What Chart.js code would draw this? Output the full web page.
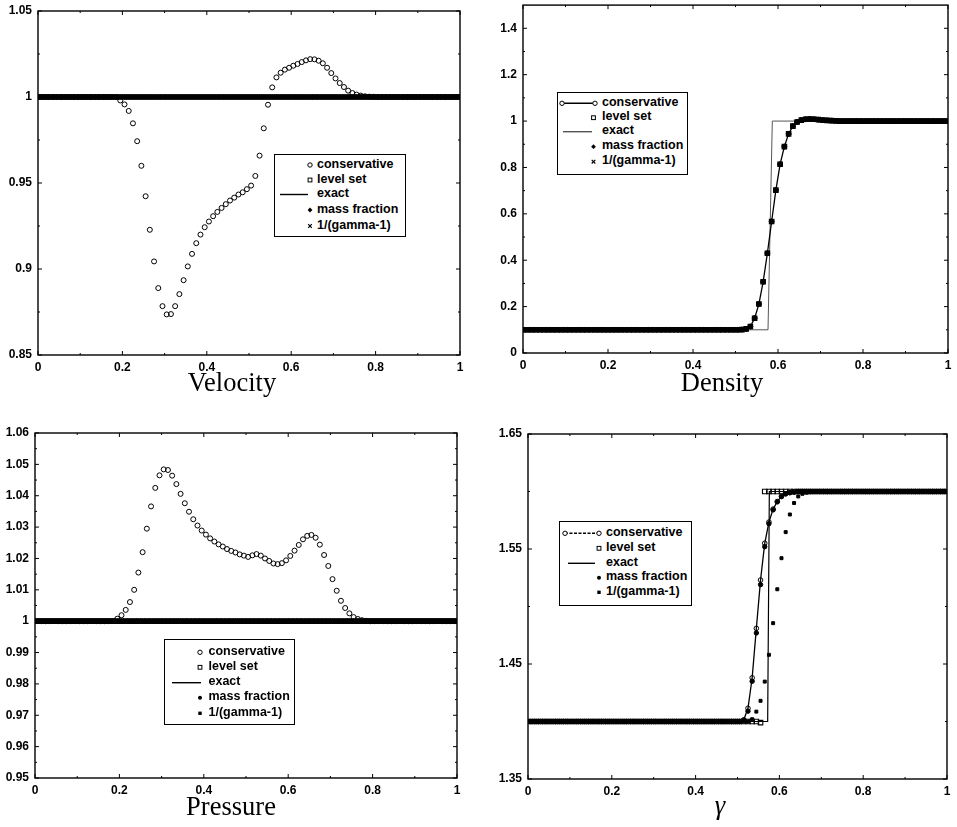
<!DOCTYPE html>
<html><head><meta charset="utf-8">
<script src="https://cdn.jsdelivr.net/npm/chart.js@4.4.1/dist/chart.umd.min.js"></script>
<style>
html,body{margin:0;padding:0;background:#fff;}
body{width:957px;height:827px;position:relative;overflow:hidden;}
.panel{position:absolute;}
.panel canvas{display:block;}
.title{position:absolute;font-family:"Liberation Serif","DejaVu Serif",serif;font-size:26.5px;line-height:26.5px;color:#000;white-space:nowrap;transform:translateX(-50%);}
.legbox{position:absolute;border:1.4px solid #000;background:#fff;box-sizing:border-box;}
.legtxt{position:absolute;font:bold 12.5px "Liberation Sans",Arial,sans-serif;line-height:14px;white-space:nowrap;color:#000;}
#legsvg{position:absolute;left:0;top:0;}
</style></head><body>
<div class="panel" style="left:0;top:0;"><canvas id="cVel" width="478" height="400"></canvas></div>
<div class="panel" style="left:478px;top:0;"><canvas id="cDen" width="479" height="400"></canvas></div>
<div class="panel" style="left:0;top:410px;"><canvas id="cPre" width="478" height="417"></canvas></div>
<div class="panel" style="left:478px;top:410px;"><canvas id="cGam" width="479" height="417"></canvas></div>
<div class="title" style="left:232px;top:369px;">Velocity</div>
<div class="title" style="left:722px;top:369px;">Density</div>
<div class="title" style="left:231px;top:793px;">Pressure</div>
<div class="title" style="left:720px;top:792px;font-style:italic;">γ</div>
<div id="legends"></div>
<svg id="legsvg" width="957" height="827" xmlns="http://www.w3.org/2000/svg"></svg>
<script>
// ---------------- data ----------------
const cellX = [
0.005,0.015,0.025,0.035,0.045,0.055,0.065,0.075,0.085,0.095,
0.105,0.115,0.125,0.135,0.145,0.155,0.165,0.175,0.185,0.195,
0.205,0.215,0.225,0.235,0.245,0.255,0.265,0.275,0.285,0.295,
0.305,0.315,0.325,0.335,0.345,0.355,0.365,0.375,0.385,0.395,
0.405,0.415,0.425,0.435,0.445,0.455,0.465,0.475,0.485,0.495,
0.505,0.515,0.525,0.535,0.545,0.555,0.565,0.575,0.585,0.595,
0.605,0.615,0.625,0.635,0.645,0.655,0.665,0.675,0.685,0.695,
0.705,0.715,0.725,0.735,0.745,0.755,0.765,0.775,0.785,0.795,
0.805,0.815,0.825,0.835,0.845,0.855,0.865,0.875,0.885,0.895,
0.905,0.915,0.925,0.935,0.945,0.955,0.965,0.975,0.985,0.995];

const legendLabels = ["conservative","level set","exact","mass fraction","1/(gamma-1)"];

const xTickVals = [0,0.2,0.4,0.6,0.8,1];
const xTickLabels = ["0","0.2","0.4","0.6","0.8","1"];

// Velocity
const velYTicks = [0.85,0.9,0.95,1,1.05];
const velYLabels = ["0.85","0.9","0.95","1","1.05"];
const velCons = [
1,1,1,1,1,1,1,1,1,1,
1,1,1,1,1,1,1,1,1,0.998,
0.9957,0.9919,0.9847,0.9743,0.960,0.9423,0.9228,0.9044,0.8889,0.8784,
0.8736,0.8738,0.8784,0.8854,0.8935,0.9015,0.9088,0.915,0.920,0.9243,
0.9276,0.9307,0.9332,0.9355,0.9377,0.9398,0.9415,0.9433,0.9446,0.9464,
0.9485,0.9541,0.9659,0.9818,0.9955,1.0056,1.0114,1.0141,1.0159,1.017,
1.0182,1.0192,1.0203,1.0213,1.022,1.0219,1.0211,1.0196,1.017,1.0139,
1.0108,1.0081,1.0058,1.0037,1.0023,1.0014,1.0008,1.0004,1.0002,1.0001,
1,1,1,1,1,1,1,1,1,1,
1,1,1,1,1,1,1,1,1,1];
const velFlat = [
1,1,1,1,1,1,1,1,1,1, 1,1,1,1,1,1,1,1,1,1,
1,1,1,1,1,1,1,1,1,1, 1,1,1,1,1,1,1,1,1,1,
1,1,1,1,1,1,1,1,1,1, 1,1,1,1,1,1,1,1,1,1,
1,1,1,1,1,1,1,1,1,1, 1,1,1,1,1,1,1,1,1,1,
1,1,1,1,1,1,1,1,1,1, 1,1,1,1,1,1,1,1,1,1];
const velLevel = velFlat, velMass = velFlat, velInvG = velFlat;
const velExactX = [0,1], velExactY = [1,1];

// Pressure
const preYTicks = [0.95,0.96,0.97,0.98,0.99,1,1.01,1.02,1.03,1.04,1.05,1.06];
const preYLabels = ["0.95","0.96","0.97","0.98","0.99","1","1.01","1.02","1.03","1.04","1.05","1.06"];
const preCons = [
1,1,1,1,1,1,1,1,1,1,
1,1,1,1,1,1,1,1,1,1.0008,
1.0019,1.0036,1.0061,1.010,1.0155,1.022,1.0295,1.0366,1.0425,1.0465,
1.0484,1.0482,1.0464,1.0437,1.0406,1.0376,1.0349,1.0325,1.0305,1.0289,
1.0276,1.0264,1.0254,1.0245,1.0238,1.0230,1.0224,1.0219,1.0213,1.0209,
1.0205,1.021,1.0214,1.0209,1.0200,1.0192,1.0184,1.0182,1.0185,1.0194,
1.0208,1.0225,1.0243,1.0261,1.0272,1.0275,1.0266,1.0244,1.0211,1.0176,
1.0134,1.0097,1.0065,1.0042,1.0025,1.0013,1.0007,1.0003,1.0001,1,
1,1,1,1,1,1,1,1,1,1,
1,1,1,1,1,1,1,1,1,1];
const preFlat = [
1,1,1,1,1,1,1,1,1,1, 1,1,1,1,1,1,1,1,1,1,
1,1,1,1,1,1,1,1,1,1, 1,1,1,1,1,1,1,1,1,1,
1,1,1,1,1,1,1,1,1,1, 1,1,1,1,1,1,1,1,1,1,
1,1,1,1,1,1,1,1,1,1, 1,1,1,1,1,1,1,1,1,1,
1,1,1,1,1,1,1,1,1,1, 1,1,1,1,1,1,1,1,1,1];
const preLevel = preFlat, preMass = preFlat, preInvG = preFlat;
const preExactX = [0,1], preExactY = [1,1];

// Density
const denYTicks = [0,0.2,0.4,0.6,0.8,1,1.2,1.4];
const denYLabels = ["0","0.2","0.4","0.6","0.8","1","1.2","1.4"];
const denCons = [
0.1,0.1,0.1,0.1,0.1,0.1,0.1,0.1,0.1,0.1,
0.1,0.1,0.1,0.1,0.1,0.1,0.1,0.1,0.1,0.1,
0.1,0.1,0.1,0.1,0.1,0.1,0.1,0.1,0.1,0.1,
0.1,0.1,0.1,0.1,0.1,0.1,0.1,0.1,0.1,0.1,
0.1,0.1,0.1,0.1,0.1,0.1,0.1,0.1,0.1,0.1,
0.1,0.101,0.104,0.114,0.15,0.211,0.307,0.43,0.567,0.702,
0.814,0.89,0.945,0.978,0.996,1.004,1.008,1.009,1.008,1.006,
1.004,1.003,1.002,1.001,1,1,1,1,1,1,
1,1,1,1,1,1,1,1,1,1,
1,1,1,1,1,1,1,1,1,1];
const denLevel = denCons, denMass = denCons, denInvG = denCons;
const denExactX = [0,0.5765,0.5866,1], denExactY = [0.1,0.1,1,1];

// Gamma
const gamYTicks = [1.35,1.45,1.55,1.65];
const gamYLabels = ["1.35","1.45","1.55","1.65"];
const gamCons = [
1.4,1.4,1.4,1.4,1.4,1.4,1.4,1.4,1.4,1.4,
1.4,1.4,1.4,1.4,1.4,1.4,1.4,1.4,1.4,1.4,
1.4,1.4,1.4,1.4,1.4,1.4,1.4,1.4,1.4,1.4,
1.4,1.4,1.4,1.4,1.4,1.4,1.4,1.4,1.4,1.4,
1.4,1.4,1.4,1.4,1.4,1.4,1.4,1.4,1.4,1.4,
1.4,1.4015,1.4115,1.438,1.481,1.523,1.555,1.5734,1.5847,1.5913,
1.596,1.598,1.599,1.5995,1.6,1.6,1.6,1.6,1.6,1.6,
1.6,1.6,1.6,1.6,1.6,1.6,1.6,1.6,1.6,1.6,
1.6,1.6,1.6,1.6,1.6,1.6,1.6,1.6,1.6,1.6,
1.6,1.6,1.6,1.6,1.6,1.6,1.6,1.6,1.6,1.6];
const gamMass = [
1.4,1.4,1.4,1.4,1.4,1.4,1.4,1.4,1.4,1.4,
1.4,1.4,1.4,1.4,1.4,1.4,1.4,1.4,1.4,1.4,
1.4,1.4,1.4,1.4,1.4,1.4,1.4,1.4,1.4,1.4,
1.4,1.4,1.4,1.4,1.4,1.4,1.4,1.4,1.4,1.4,
1.4,1.4,1.4,1.4,1.4,1.4,1.4,1.4,1.4,1.4,
1.4,1.401,1.409,1.435,1.477,1.519,1.552,1.572,1.584,1.591,
1.5955,1.598,1.599,1.5995,1.6,1.6,1.6,1.6,1.6,1.6,
1.6,1.6,1.6,1.6,1.6,1.6,1.6,1.6,1.6,1.6,
1.6,1.6,1.6,1.6,1.6,1.6,1.6,1.6,1.6,1.6,
1.6,1.6,1.6,1.6,1.6,1.6,1.6,1.6,1.6,1.6];
const gamInvG = [
1.4,1.4,1.4,1.4,1.4,1.4,1.4,1.4,1.4,1.4,
1.4,1.4,1.4,1.4,1.4,1.4,1.4,1.4,1.4,1.4,
1.4,1.4,1.4,1.4,1.4,1.4,1.4,1.4,1.4,1.4,
1.4,1.4,1.4,1.4,1.4,1.4,1.4,1.4,1.4,1.4,
1.4,1.4,1.4,1.4,1.4,1.4,1.4,1.4,1.4,1.4,
1.4,1.4,1.4,1.402,1.4086,1.418,1.4347,1.458,1.4855,1.515,
1.542,1.5647,1.580,1.590,1.5957,1.598,1.599,1.5995,1.6,1.6,
1.6,1.6,1.6,1.6,1.6,1.6,1.6,1.6,1.6,1.6,
1.6,1.6,1.6,1.6,1.6,1.6,1.6,1.6,1.6,1.6,
1.6,1.6,1.6,1.6,1.6,1.6,1.6,1.6,1.6,1.6];
const gamLevel = [
1.4,1.4,1.4,1.4,1.4,1.4,1.4,1.4,1.4,1.4,
1.4,1.4,1.4,1.4,1.4,1.4,1.4,1.4,1.4,1.4,
1.4,1.4,1.4,1.4,1.4,1.4,1.4,1.4,1.4,1.4,
1.4,1.4,1.4,1.4,1.4,1.4,1.4,1.4,1.4,1.4,
1.4,1.4,1.4,1.4,1.4,1.4,1.4,1.4,1.4,1.4,
1.4,1.4,1.4,1.4,1.4,1.399,1.6,1.6,1.6,1.6,
1.6,1.6,1.6,1.6,1.6,1.6,1.6,1.6,1.6,1.6,
1.6,1.6,1.6,1.6,1.6,1.6,1.6,1.6,1.6,1.6,
1.6,1.6,1.6,1.6,1.6,1.6,1.6,1.6,1.6,1.6,
1.6,1.6,1.6,1.6,1.6,1.6,1.6,1.6,1.6,1.6];
const gamExactX = [0,0.572,0.576,1], gamExactY = [1.4,1.4,1.6,1.6];

// ---------------- helpers ----------------
const tickFont = {family:'"Liberation Sans", Arial, sans-serif', size:12, weight:'bold'};
function pts(xs, ys){ return xs.map((x,i)=>({x:x, y:ys[i]})); }
function mids(v){ const m=[]; for(let i=0;i<v.length-1;i++) m.push((v[i]+v[i+1])/2); return m; }

const framePlugin = {
  id:'frame',
  afterDatasetsDraw(chart, args, opts){
    const {ctx, chartArea:a} = chart;
    const xs = chart.scales.x, ys = chart.scales.y;
    ctx.save();
    ctx.strokeStyle = '#000';
    ctx.lineWidth = 1;
    ctx.beginPath();
    const tick = (vals, len, horiz) => {
      for (const v of vals){
        if (horiz){
          const p = xs.getPixelForValue(v);
          ctx.moveTo(p, a.bottom); ctx.lineTo(p, a.bottom-len);
          ctx.moveTo(p, a.top); ctx.lineTo(p, a.top+len);
        } else {
          const p = ys.getPixelForValue(v);
          ctx.moveTo(a.left, p); ctx.lineTo(a.left+len, p);
          ctx.moveTo(a.right, p); ctx.lineTo(a.right-len, p);
        }
      }
    };
    tick(opts.xMajor, 4, true); tick(mids(opts.xMajor), 2, true);
    tick(opts.yMajor, 4, false); tick(mids(opts.yMajor), 2, false);
    ctx.stroke();
    ctx.lineWidth = 1.4;
    ctx.strokeRect(a.left, a.top, a.right-a.left, a.bottom-a.top);
    ctx.restore();
  }
};

function makeChart(id, cfg){
  return new Chart(document.getElementById(id), {
    type:'scatter',
    data:{datasets:cfg.datasets},
    options:{
      responsive:false, animation:false, events:[],
      layout:{padding:cfg.pad},
      plugins:{legend:{display:false}, tooltip:{enabled:false}, title:{display:false},
               frame:{xMajor:xTickVals, yMajor:cfg.yTicks}},
      scales:{
        x:{type:'linear', min:0, max:1, border:{display:false}, grid:{display:false, drawTicks:false},
           ticks:{padding:5, color:'#000', font:tickFont, maxRotation:0, autoSkip:false,
                  callback:(v,i)=>xTickLabels[i]},
           afterBuildTicks:s=>{ s.ticks = xTickVals.map(v=>({value:v})); },
           afterFit:s=>{ s.height = cfg.xH; s.paddingLeft=0; s.paddingRight=0; s.paddingTop=0; s.paddingBottom=0; }},
        y:{type:'linear', min:cfg.yMin, max:cfg.yMax, border:{display:false}, grid:{display:false, drawTicks:false},
           ticks:{padding:6, color:'#000', font:tickFont, autoSkip:false,
                  callback:(v,i)=>cfg.yLabels[i]},
           afterBuildTicks:s=>{ s.ticks = cfg.yTicks.map(v=>({value:v})); },
           afterFit:s=>{ s.width = cfg.yW; s.paddingLeft=0; s.paddingRight=0; s.paddingTop=0; s.paddingBottom=0; }}
      }
    },
    plugins:[framePlugin]
  });
}

const K = '#000', NONE = 'rgba(0,0,0,0)';
function sExact(color, w){ return {showLine:true, borderColor:color, borderWidth:w, pointRadius:0, order:5, tension:0}; }
function sCircles(r){ return {showLine:false, pointStyle:'circle', pointRadius:r, pointBorderWidth:1, pointBorderColor:K, pointBackgroundColor:NONE, order:4}; }
function sCirclesLine(r){ return {showLine:true, borderColor:K, borderWidth:1.3, pointStyle:'circle', pointRadius:r, pointBorderWidth:1, pointBorderColor:K, pointBackgroundColor:NONE, order:4}; }
function sSquares(r){ return {showLine:false, pointStyle:'rect', pointRadius:r, pointBorderWidth:1.1, pointBorderColor:K, pointBackgroundColor:NONE, order:3}; }
function sDots(r){ return {showLine:false, pointStyle:'circle', pointRadius:r, pointBorderWidth:1, pointBorderColor:K, pointBackgroundColor:K, order:2}; }
function sCrosses(r){ return {showLine:false, pointStyle:'crossRot', pointRadius:r, pointBorderWidth:1, pointBorderColor:K, order:1}; }
function sFSquares(r){ return {showLine:false, pointStyle:'rect', pointRadius:r, pointBorderWidth:1, pointBorderColor:K, pointBackgroundColor:K, order:1}; }
function ds(label, xs, ys, style){ return Object.assign({label:label, data:pts(xs, ys)}, style); }

makeChart('cVel', {
  pad:{left:0, top:11, right:18, bottom:25}, xH:20, yW:38,
  yMin:0.85, yMax:1.05, yTicks:velYTicks, yLabels:velYLabels,
  datasets:[
    ds(legendLabels[2], velExactX, velExactY, sExact(K, 1.5)),
    ds(legendLabels[0], cellX, velCons, sCircles(2.5)),
    ds(legendLabels[1], cellX, velLevel, sSquares(3.2)),
    ds(legendLabels[3], cellX, velMass, sDots(2.2)),
    ds(legendLabels[4], cellX, velInvG, sCrosses(2))
  ]
});
makeChart('cDen', {
  pad:{left:0, top:3, right:9, bottom:27}, xH:20, yW:45,
  yMin:0, yMax:1.5, yTicks:denYTicks, yLabels:denYLabels,
  datasets:[
    ds(legendLabels[2], denExactX, denExactY, sExact('#555', 1)),
    ds(legendLabels[0], cellX, denCons, sCirclesLine(2.4)),
    ds(legendLabels[1], cellX, denLevel, sSquares(3.2)),
    ds(legendLabels[3], cellX, denMass, sDots(2.2)),
    ds(legendLabels[4], cellX, denInvG, sCrosses(2))
  ]
});
makeChart('cPre', {
  pad:{left:0, top:23, right:21, bottom:29}, xH:20, yW:35,
  yMin:0.95, yMax:1.06, yTicks:preYTicks, yLabels:preYLabels,
  datasets:[
    ds(legendLabels[2], preExactX, preExactY, sExact(K, 1.5)),
    ds(legendLabels[0], cellX, preCons, sCircles(2.5)),
    ds(legendLabels[1], cellX, preLevel, sSquares(3.2)),
    ds(legendLabels[3], cellX, preMass, sDots(2.2)),
    ds(legendLabels[4], cellX, preInvG, sFSquares(2.2))
  ]
});
makeChart('cGam', {
  pad:{left:0, top:24, right:10, bottom:28}, xH:20, yW:50,
  yMin:1.35, yMax:1.65, yTicks:gamYTicks, yLabels:gamYLabels,
  datasets:[
    ds(legendLabels[2], gamExactX, gamExactY, sExact(K, 1.2)),
    ds(legendLabels[0], cellX, gamCons, sCirclesLine(2.3)),
    ds(legendLabels[1], cellX, gamLevel, sSquares(3.2)),
    ds(legendLabels[3], cellX, gamMass, sDots(2.2)),
    ds(legendLabels[4], cellX, gamInvG, sFSquares(2.1))
  ]
});

// ---------------- legends (HTML text + SVG keys) ----------------
const legendLayouts = [
  {box:[274,154,406,237], tx:317, mx:310, rows:[165,180,194.5,210,226],
   marks:[{k:'circle'},{k:'square'},{k:'line',x1:280,x2:308,c:'#000'},{k:'diamond'},{k:'cross'}]},
  {box:[557,92,688,175], tx:602, mx:593.5, rows:[103.3,117.7,131.7,146.7,161.7],
   marks:[{k:'lineCircles',x1:562,x2:595},{k:'square'},{k:'line',x1:563,x2:592,c:'#555'},{k:'diamond'},{k:'cross'}]},
  {box:[164,639,295,725], tx:208.5, mx:200, rows:[652.3,667.3,682.7,697.7,713.3],
   marks:[{k:'circle'},{k:'square'},{k:'line',x1:172,x2:201,c:'#000'},{k:'dot'},{k:'fsquare'}]},
  {box:[559,521,692,606], tx:606, mx:599, rows:[533.3,548.3,563.3,577.7,592.3],
   marks:[{k:'lineCircles',x1:565,x2:599,dash:'3,1.5'},{k:'square'},{k:'line',x1:568,x2:595,c:'#000'},{k:'dot'},{k:'fsquare'}]}
];
const SVGNS = 'http://www.w3.org/2000/svg';
const svg = document.getElementById('legsvg');
const legRoot = document.getElementById('legends');
function el(tag, attrs){ const e = document.createElementNS(SVGNS, tag); for (const k in attrs) e.setAttribute(k, attrs[k]); svg.appendChild(e); return e; }
function circ(cx, cy, fill){ el('circle',{cx:cx, cy:cy, r:2.2, fill:fill, stroke:'#000','stroke-width':1}); }
for (const L of legendLayouts){
  const [l,t,r,b] = L.box;
  const box = document.createElement('div');
  box.className = 'legbox';
  box.style.cssText = `left:${l}px;top:${t}px;width:${r-l}px;height:${b-t}px;`;
  legRoot.appendChild(box);
  L.rows.forEach((y,i)=>{
    const d = document.createElement('div');
    d.className = 'legtxt';
    d.textContent = legendLabels[i];
    d.style.left = L.tx + 'px';
    d.style.top = (y - 8.5) + 'px';
    legRoot.appendChild(d);
    const m = L.marks[i], x = L.mx;
    if (m.k === 'circle') circ(x, y, '#fff');
    else if (m.k === 'square') el('rect',{x:x-1.9, y:y-1.9, width:3.8, height:3.8, fill:'#fff', stroke:'#000','stroke-width':1});
    else if (m.k === 'line') el('line',{x1:m.x1, y1:y, x2:m.x2, y2:y, stroke:m.c, 'stroke-width':1.4});
    else if (m.k === 'lineCircles'){
      const a = {x1:m.x1, y1:y, x2:m.x2, y2:y, stroke:'#000', 'stroke-width':1.4};
      if (m.dash) a['stroke-dasharray'] = m.dash;
      el('line', a); circ(m.x1, y, '#fff'); circ(m.x2, y, '#fff');
    }
    else if (m.k === 'diamond') el('polygon',{points:`${x},${y-2.4} ${x+2.4},${y} ${x},${y+2.4} ${x-2.4},${y}`, fill:'#000'});
    else if (m.k === 'dot') el('circle',{cx:x, cy:y, r:2, fill:'#000'});
    else if (m.k === 'cross'){ el('line',{x1:x-1.8,y1:y-1.8,x2:x+1.8,y2:y+1.8,stroke:'#000','stroke-width':1.2}); el('line',{x1:x-1.8,y1:y+1.8,x2:x+1.8,y2:y-1.8,stroke:'#000','stroke-width':1.2}); }
    else if (m.k === 'fsquare') el('rect',{x:x-1.7, y:y-1.7, width:3.4, height:3.4, fill:'#000'});
  });
}
</script>
</body></html>
